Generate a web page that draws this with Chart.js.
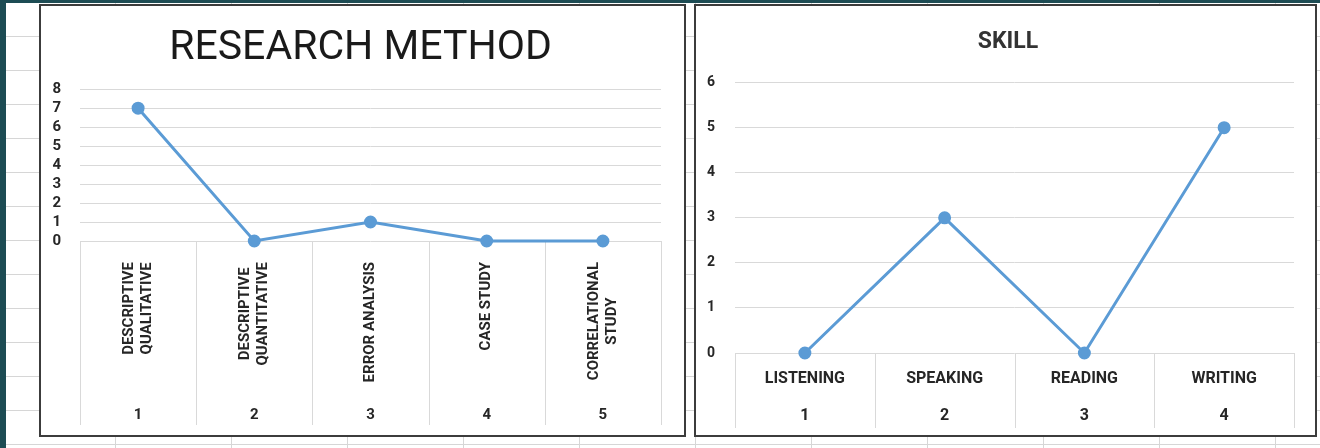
<!DOCTYPE html>
<html>
<head>
<meta charset="utf-8">
<script src="https://cdn.jsdelivr.net/npm/chart.js@4/dist/chart.umd.min.js"></script>
<style>
  html, body { margin: 0; padding: 0; }
  body {
    width: 1320px;
    height: 448px;
    overflow: hidden;
    position: relative;
    background:
      linear-gradient(#1d4c54, #1d4c54) 0 0 / 1320px 3px no-repeat,
      linear-gradient(#1d4c54, #1d4c54) 0 0 / 6px 448px no-repeat,
      repeating-linear-gradient(to right, transparent 0 115px, #d6d6d6 115px 116px),
      repeating-linear-gradient(to bottom, transparent 0 33px, #d6d6d6 33px 34px) 0 3px,
      #fff;
  }
  .box {
    position: absolute;
    top: 4px;
    height: 433px;
    box-sizing: border-box;
    border: 2px solid #3c3c3c;
    background: #fff;
  }
  #box1 { left: 39px; width: 647px; }
  #box2 { left: 694px; width: 623px; }
  canvas { display: block; }
</style>
</head>
<body>
<div class="box" id="box1"><canvas id="methodChart" width="643" height="429"></canvas></div>
<div class="box" id="box2"><canvas id="skillChart" width="619" height="429"></canvas></div>

<script>
// research method chart
const methodLabels = [
  ['DESCRIPTIVE', 'QUALITATIVE'],
  ['DESCRIPTIVE', 'QUANTITATIVE'],
  'ERROR ANALYSIS',
  'CASE STUDY',
  ['CORRELATIONAL', 'STUDY']
];
const methodNumbers = ['1', '2', '3', '4', '5'];
const methodCounts = [7, 0, 1, 0, 0];
const methodMax = 8;

// skill chart
const skillLabels = ['LISTENING', 'SPEAKING', 'READING', 'WRITING'];
const skillNumbers = ['1', '2', '3', '4'];
const skillCounts = [0, 3, 0, 5];
const skillMax = 6;

const LINE_BLUE = '#5b9bd5';
const GRID = '#d9d9d9';
const TEXT = '#262626';

// Excel-style boxes between categories under the plot
const categoryDividers = {
  id: 'categoryDividers',
  afterLayout(chart) {
    // rotated two-line labels: center the lines on each other and on the tick
    const x = chart.scales.x;
    if (!x.labelRotation) return;
    const items = x.getLabelItems();
    const ctx = chart.ctx;
    items.forEach((item) => {
      if (!Array.isArray(item.label)) return;
      ctx.save();
      ctx.font = item.font.string;
      const widest = Math.max(...item.label.map((t) => ctx.measureText(t).width));
      ctx.restore();
      item.options.textAlign = 'center';
      item.options.translation[0] -= item.font.lineHeight / 2;
      item.options.translation[1] += widest / 2;
    });
  },
  beforeDatasetsDraw(chart) {
    const x = chart.scales.x;
    const x2 = chart.scales.x2;
    const n = chart.data.labels.length;
    const step = x.getPixelForValue(1) - x.getPixelForValue(0);
    const start = x.getPixelForValue(0) - step / 2;
    const ctx = chart.ctx;
    ctx.save();
    ctx.strokeStyle = GRID;
    ctx.lineWidth = 1;
    ctx.beginPath();
    for (let i = 0; i <= n; i++) {
      const px = Math.round(start + i * step) + 0.5;
      ctx.moveTo(px, chart.chartArea.bottom);
      ctx.lineTo(px, x2.bottom);
    }
    ctx.stroke();
    ctx.restore();
  }
};

function makeChart(id, opts) {
  const ctx = document.getElementById(id).getContext('2d');
  return new Chart(ctx, {
    type: 'line',
    data: {
      labels: opts.labels,
      datasets: [{
        data: opts.values,
        borderColor: LINE_BLUE,
        backgroundColor: LINE_BLUE,
        borderWidth: 3,
        pointRadius: 5,
        pointHoverRadius: 5,
        tension: 0,
        clip: false
      }]
    },
    options: {
      responsive: false,
      animation: false,
      layout: { padding: opts.padding },
      plugins: {
        legend: { display: false },
        tooltip: { enabled: false },
        title: {
          display: true,
          text: opts.title,
          color: opts.titleColor,
          font: opts.titleFont,
          padding: opts.titlePadding
        }
      },
      scales: {
        x: {
          type: 'category',
          offset: true,
          weight: 0,
          grid: { display: false },
          border: { display: false },
          ticks: {
            color: TEXT,
            font: opts.labelFont,
            autoSkip: false,
            minRotation: opts.rotation,
            maxRotation: opts.rotation,
            padding: opts.labelPadding
          },
          afterFit: (scale) => { scale.height = opts.labelHeight; }
        },
        x2: {
          type: 'category',
          position: 'bottom',
          labels: opts.numbers,
          offset: true,
          weight: 1,
          grid: { display: false },
          border: { display: false },
          ticks: {
            color: TEXT,
            font: opts.labelFont,
            maxRotation: 0,
            padding: opts.numberPadding
          },
          afterFit: (scale) => { scale.height = opts.numberHeight; }
        },
        y: {
          min: 0,
          max: opts.max,
          grid: { color: GRID, drawTicks: false },
          border: { display: false },
          ticks: {
            stepSize: 1,
            autoSkip: false,
            color: TEXT,
            font: opts.yFont,
            padding: opts.yPadding
          },
          afterFit: (scale) => { scale.width = opts.yWidth; }
        },
        // empty right-hand spacer so the title centres like Excel's
        yRight: {
          position: 'right',
          min: 0,
          max: opts.max,
          grid: { display: false },
          border: { display: false },
          ticks: { display: false },
          afterFit: (scale) => { scale.width = opts.rightWidth; }
        }
      }
    },
    plugins: [categoryDividers]
  });
}

makeChart('methodChart', {
  labels: methodLabels,
  numbers: methodNumbers,
  values: methodCounts,
  max: methodMax,
  title: 'RESEARCH METHOD',
  titleColor: '#1a1a1a',
  titleFont: { family: 'Roboto', size: 41, weight: 'normal' },
  titlePadding: { top: 18, bottom: 16 },
  padding: { left: 0, right: 4, top: 0, bottom: 10 },
  yWidth: 39,
  rightWidth: 19,
  labelFont: { family: 'Roboto', size: 15, weight: 'bold' },
  rotation: 90,
  labelPadding: 13,
  labelHeight: 154,
  numberPadding: 3,
  numberHeight: 30,
  yFont: { family: 'Roboto', size: 15, weight: 'bold' },
  yPadding: 19
});

makeChart('skillChart', {
  labels: skillLabels,
  numbers: skillNumbers,
  values: skillCounts,
  max: skillMax,
  title: 'SKILL',
  titleColor: '#333333',
  titleFont: { family: 'Roboto', size: 23, weight: 'bold' },
  titlePadding: { top: 22, bottom: 27 },
  padding: { left: 5, right: 0, top: 0, bottom: 7 },
  yWidth: 34,
  rightWidth: 21,
  labelFont: { family: 'Roboto', size: 16, weight: 'bold' },
  rotation: 0,
  labelPadding: 8,
  labelHeight: 40,
  numberPadding: 5,
  numberHeight: 35,
  yFont: { family: 'Roboto', size: 14, weight: 'bold' },
  yPadding: 20
});
</script>
</body>
</html>
